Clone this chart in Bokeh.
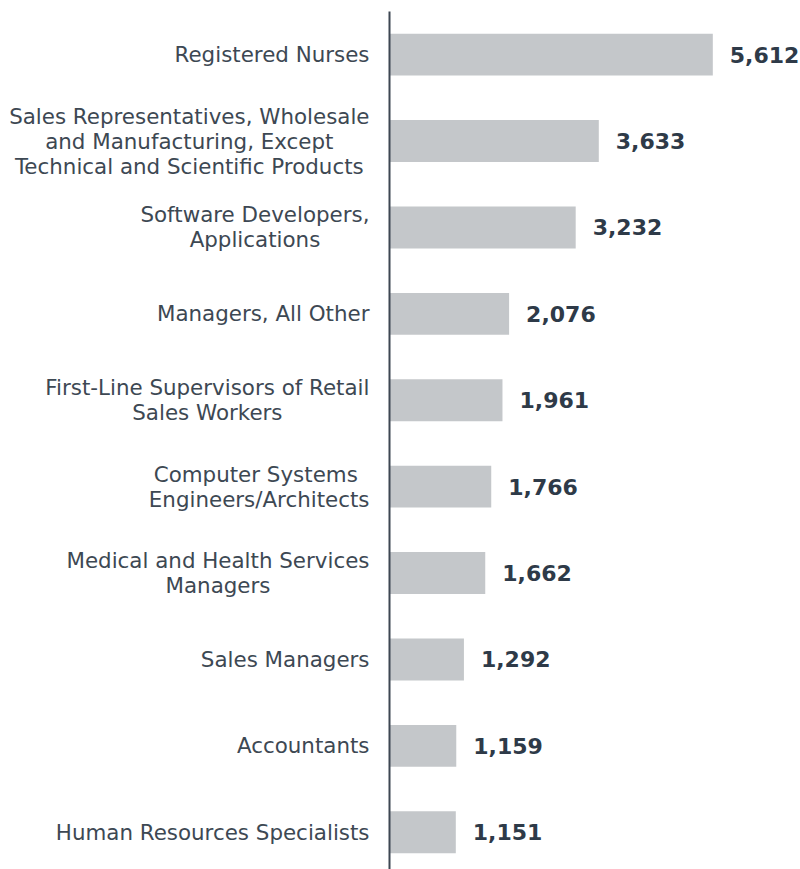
from bokeh.plotting import figure
from bokeh.models import ColumnDataSource, Range1d, FixedTicker
from bokeh.core.properties import value
from bokeh.embed import file_html
from bokeh.resources import INLINE

occupations = [
    "Registered Nurses",
    "Sales Representatives, Wholesale\nand Manufacturing, Except\nTechnical and Scientific Products",
    "Software Developers,\nApplications",
    "Managers, All Other",
    "First-Line Supervisors of Retail\nSales Workers",
    "Computer Systems \nEngineers/Architects",
    "Medical and Health Services\nManagers",
    "Sales Managers",
    "Accountants",
    "Human Resources Specialists",
]
openings = [5612, 3633, 3232, 2076, 1961, 1766, 1662, 1292, 1159, 1151]

idx = list(range(len(occupations)))
src = ColumnDataSource(dict(
    y=idx,
    v=openings,
    zero=[0] * len(idx),
    name=occupations,
    lbl=[f"{x:,}" for x in openings],
))

p = figure(width=800, height=869, output_backend="svg", toolbar_location=None,
           x_range=Range1d(-6752, 7134), y_range=Range1d(9.431, -0.627),
           min_border_left=0, min_border_right=0, min_border_top=0, min_border_bottom=0)

p.hbar(y="y", left=0, right="v", height=0.485, source=src,
       fill_color="#c4c7ca", line_color=None)

p.text(x="v", y="y", text="lbl", source=src, x_offset=17,
       text_font=value("DejaVu Sans"), text_font_style="bold",
       text_font_size="22px", text_color="#2e3a48",
       text_align="left", text_baseline="middle")

p.text(x="zero", y="y", text="name", source=src, x_offset=-20,
       text_font=value("DejaVu Sans"), text_font_size="21.4px",
       text_color="#3d4853", text_align="center", anchor="center_right",
       text_line_height=1.0)

p.xaxis.visible = False
p.yaxis.ticker = FixedTicker(ticks=[])
p.yaxis.minor_tick_line_color = None
p.yaxis.major_tick_line_color = None
p.yaxis.major_label_text_font_size = "0px"
p.yaxis.axis_line_color = "#3d4752"
p.yaxis.axis_line_width = 2
p.yaxis.fixed_location = 0
p.yaxis.bounds = (-0.5, 9.431)
p.grid.visible = False
p.outline_line_color = None
p.background_fill_color = "white"
p.border_fill_color = "white"

open("out.html", "w").write(file_html(p, INLINE))
